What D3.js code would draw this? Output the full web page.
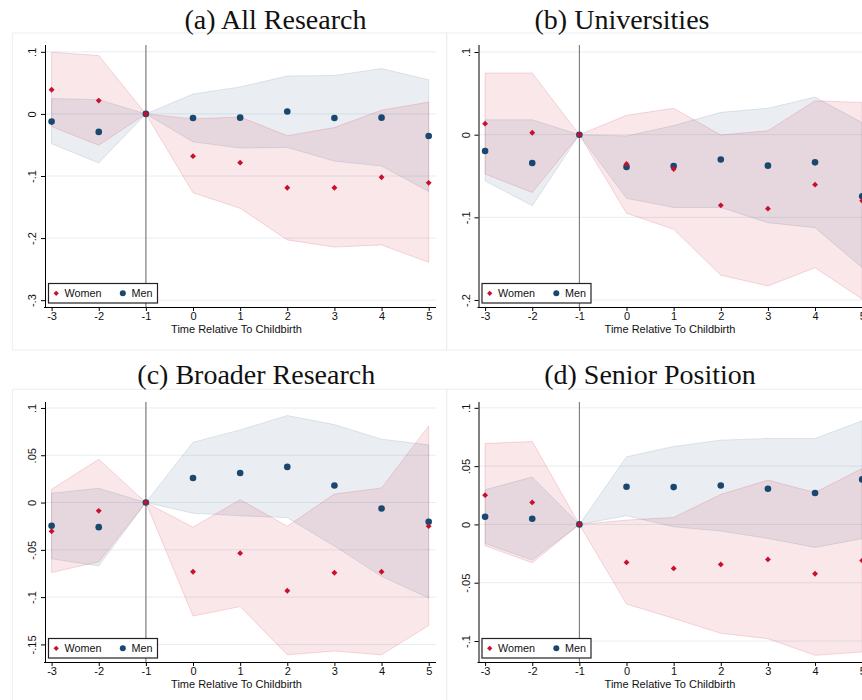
<!DOCTYPE html>
<html>
<head>
<meta charset="utf-8">
<script src="https://cdn.jsdelivr.net/npm/d3@7"></script>
<style>
  body { margin: 0; background: #fff; }
  svg { display: block; }
</style>
</head>
<body>
<div id="chart"></div>
<script>
// x values and labels
const periods = [-3, -2, -1, 0, 1, 2, 3, 4, 5];
const xTickLabels = ["-3", "-2", "-1", "0", "1", "2", "3", "4", "5"];
const seriesNames = ["Women", "Men"];
const panelTitles = ["(a) All Research", "(b) Universities", "(c) Broader Research", "(d) Senior Position"];
const xAxisTitle = "Time Relative To Childbirth";

// (a) All Research
const allWomen   = [0.039, 0.0215, 0, -0.068, -0.0785, -0.119, -0.119, -0.102, -0.111];
const allWomenLo = [-0.0204, -0.0505, 0, -0.127, -0.152, -0.203, -0.2145, -0.211, -0.239];
const allWomenHi = [0.0995, 0.094, 0, -0.008, -0.005, -0.035, -0.022, 0.006, 0.019];
const allMen     = [-0.0124, -0.029, 0, -0.0065, -0.006, 0.0038, -0.0065, -0.006, -0.0355];
const allMenLo   = [-0.048, -0.079, 0, -0.045, -0.055, -0.054, -0.076, -0.084, -0.125];
const allMenHi   = [0.0247, 0.023, 0, 0.032, 0.0435, 0.061, 0.062, 0.073, 0.055];

// (b) Universities
const uniWomen   = [0.0133, 0.0024, 0, -0.0355, -0.0415, -0.0855, -0.0895, -0.0605, -0.080];
const uniWomenLo = [-0.0476, -0.070, 0, -0.095, -0.1145, -0.170, -0.183, -0.161, -0.199];
const uniWomenHi = [0.0746, 0.0746, 0, 0.0234, 0.032, -0.0004, 0.0048, 0.041, 0.039];
const uniMen     = [-0.0198, -0.0343, 0, -0.039, -0.038, -0.030, -0.0375, -0.0335, -0.0746];
const uniMenLo   = [-0.056, -0.086, 0, -0.077, -0.088, -0.088, -0.1065, -0.1125, -0.161];
const uniMenHi   = [0.018, 0.018, 0, -0.0016, 0.011, 0.027, 0.032, 0.0455, 0.0145];

// (c) Broader Research
const broadWomen   = [-0.0303, -0.0088, 0, -0.0732, -0.0535, -0.0933, -0.0743, -0.0732, -0.025];
const broadWomenLo = [-0.074, -0.0627, 0, -0.120, -0.110, -0.161, -0.157, -0.161, -0.130];
const broadWomenHi = [0.014, 0.0458, 0, -0.026, 0.003, -0.025, 0.009, 0.0155, 0.081];
const broadMen     = [-0.0246, -0.026, 0, 0.026, 0.0313, 0.0377, 0.018, -0.0063, -0.0204];
const broadMenLo   = [-0.0595, -0.067, 0, -0.0113, -0.014, -0.016, -0.046, -0.078, -0.101];
const broadMenHi   = [0.0099, 0.015, 0, 0.0637, 0.0768, 0.092, 0.0824, 0.067, 0.061];

// (d) Senior Position
const seniorWomen   = [0.0251, 0.0189, 0, -0.0326, -0.0377, -0.0343, -0.030, -0.0423, -0.0309];
const seniorWomenLo = [-0.0183, -0.0329, 0, -0.0683, -0.0806, -0.0934, -0.098, -0.1123, -0.1094];
const seniorWomenHi = [0.0694, 0.0711, 0, 0.0037, 0.006, 0.0257, 0.038, 0.0274, 0.048];
const seniorMen     = [0.0066, 0.0049, 0, 0.0323, 0.032, 0.0334, 0.0306, 0.0269, 0.0386];
const seniorMenLo   = [-0.0163, -0.0306, 0, 0.0074, -0.002, -0.0057, -0.012, -0.0197, -0.0123];
const seniorMenHi   = [0.0297, 0.0406, 0, 0.058, 0.0669, 0.0723, 0.0737, 0.0737, 0.0889];

// y ticks
const yTicksA = [0.1, 0, -0.1, -0.2, -0.3];
const yLabelsA = [".1", "0", "-.1", "-.2", "-.3"];
const yTicksB = [0.1, 0, -0.1, -0.2];
const yLabelsB = [".1", "0", "-.1", "-.2"];
const yTicksC = [0.1, 0.05, 0, -0.05, -0.1, -0.15];
const yLabelsC = [".1", ".05", "0", "-.05", "-.1", "-.15"];
const yTicksD = [0.1, 0.05, 0, -0.05, -0.1];
const yLabelsD = [".1", ".05", "0", "-.05", "-.1"];

const womenColor = "#c8102e";
const menColor = "#1a476f";

let svg = d3.select("#chart")
    .append("svg")
    .attr("width", 862)
    .attr("height", 700);

// layout for each panel (pixel positions)
let panels = [
    {title: panelTitles[0], tx: 275.5, ty: 28.5, left: 45, right: 436, top: 45, bottom: 307,
     yDomain: [-0.311, 0.111], ticks: yTicksA, labels: yLabelsA, line: "#a3a3a3", lineW: 1.7,
     box: [12.3, 33, 434.4, 317],
     w: allWomen, wLo: allWomenLo, wHi: allWomenHi, m: allMen, mLo: allMenLo, mHi: allMenHi},
    {title: panelTitles[1], tx: 622, ty: 28.5, left: 478.5, right: 869.5, top: 45, bottom: 307,
     yDomain: [-0.2085, 0.1085], ticks: yTicksB, labels: yLabelsB, line: "#6e6e6e", lineW: 1,
     box: [446.7, 33, 434.4, 317],
     w: uniWomen, wLo: uniWomenLo, wHi: uniWomenHi, m: uniMen, mLo: uniMenLo, mHi: uniMenHi},
    {title: panelTitles[2], tx: 256.3, ty: 383.5, left: 45, right: 436, top: 402, bottom: 662,
     yDomain: [-0.1686, 0.1063], ticks: yTicksC, labels: yLabelsC, line: "#a3a3a3", lineW: 1.7,
     box: [12.3, 389.3, 434.4, 320],
     w: broadWomen, wLo: broadWomenLo, wHi: broadWomenHi, m: broadMen, mLo: broadMenLo, mHi: broadMenHi},
    {title: panelTitles[3], tx: 650, ty: 383.5, left: 478.5, right: 869.5, top: 402, bottom: 662,
     yDomain: [-0.118, 0.105], ticks: yTicksD, labels: yLabelsD, line: "#6e6e6e", lineW: 1,
     box: [446.7, 389.3, 434.4, 320],
     w: seniorWomen, wLo: seniorWomenLo, wHi: seniorWomenHi, m: seniorMen, mLo: seniorMenLo, mHi: seniorMenHi}
];

panels.forEach(function(p) {
    let g = svg.append("g");

    // faint graph region box
    g.append("rect")
        .attr("x", p.box[0]).attr("y", p.box[1])
        .attr("width", p.box[2]).attr("height", p.box[3])
        .attr("fill", "none")
        .attr("stroke", "#eaeff2")
        .attr("stroke-width", 1);

    g.append("text")
        .attr("x", p.tx).attr("y", p.ty)
        .attr("text-anchor", "middle")
        .attr("font-family", "Liberation Serif, Times New Roman, serif")
        .attr("font-size", "28px")
        .attr("fill", "#111")
        .text(p.title);

    let x = d3.scaleLinear().domain([-3.14, 5.155]).range([p.left, p.right]);
    let y = d3.scaleLinear().domain(p.yDomain).range([p.bottom, p.top]);

    // gridlines
    g.selectAll(".grid")
        .data(p.ticks)
        .enter()
        .append("line")
        .attr("x1", p.left).attr("x2", p.right)
        .attr("y1", d => y(d)).attr("y2", d => y(d))
        .attr("stroke", "#e6eef2")
        .attr("stroke-width", 1);

    let rows = periods.map((t, i) => ({t: t, w: p.w[i], wLo: p.wLo[i], wHi: p.wHi[i],
                                       m: p.m[i], mLo: p.mLo[i], mHi: p.mHi[i]}));

    // confidence bands
    let menArea = d3.area().x(d => x(d.t)).y0(d => y(d.mLo)).y1(d => y(d.mHi));
    let womenArea = d3.area().x(d => x(d.t)).y0(d => y(d.wLo)).y1(d => y(d.wHi));

    g.append("path")
        .datum(rows)
        .attr("d", menArea)
        .attr("fill", menColor).attr("fill-opacity", 0.09)
        .attr("stroke", menColor).attr("stroke-opacity", 0.12);

    g.append("path")
        .datum(rows)
        .attr("d", womenArea)
        .attr("fill", womenColor).attr("fill-opacity", 0.1)
        .attr("stroke", womenColor).attr("stroke-opacity", 0.15);

    // reference line at -1
    g.append("line")
        .attr("x1", x(-1)).attr("x2", x(-1))
        .attr("y1", p.top).attr("y2", p.bottom)
        .attr("stroke", p.line)
        .attr("stroke-width", p.lineW);

    // axes
    let xAxis = d3.axisBottom(x).tickValues(periods)
        .tickFormat((d, i) => xTickLabels[i]).tickSize(4).tickSizeOuter(0);
    let yAxis = d3.axisLeft(y).tickValues(p.ticks)
        .tickFormat((d, i) => p.labels[i]).tickSize(4).tickSizeOuter(0);

    let xg = g.append("g")
        .attr("transform", `translate(0, ${p.bottom})`)
        .call(xAxis);
    xg.select(".domain").attr("d", `M${p.left - 1},0.5H${p.right}`);
    xg.selectAll("text")
        .attr("font-family", "Liberation Sans, Arial, sans-serif")
        .attr("font-size", "11px")
        .attr("fill", "#111")
        .attr("dy", "0.7em")
        .attr("y", 5);

    let yg = g.append("g")
        .attr("transform", `translate(${p.left}, 0)`)
        .call(yAxis);
    yg.select(".domain").attr("d", `M0.5,${p.top}V${p.bottom + 1}`);
    yg.selectAll(".tick text")
        .attr("font-family", "Liberation Sans, Arial, sans-serif")
        .attr("font-size", "11px")
        .attr("fill", "#111")
        .attr("x", null).attr("dy", null)
        .attr("text-anchor", "middle")
        .attr("transform", "translate(-9,0) rotate(-90)");

    g.append("text")
        .attr("x", (p.left + p.right) / 2 - 4)
        .attr("y", p.bottom + 26)
        .attr("text-anchor", "middle")
        .attr("font-family", "Liberation Sans, Arial, sans-serif")
        .attr("font-size", "11px")
        .attr("fill", "#111")
        .text(xAxisTitle);

    // markers
    g.selectAll(".man")
        .data(rows)
        .enter()
        .append("circle")
        .attr("cx", d => x(d.t))
        .attr("cy", d => y(d.m))
        .attr("r", 3.3)
        .attr("fill", menColor);

    g.selectAll(".woman")
        .data(rows)
        .enter()
        .append("path")
        .attr("d", d3.symbol(d3.symbolDiamond2, 22))
        .attr("transform", d => `translate(${x(d.t)}, ${y(d.w)})`)
        .attr("fill", womenColor);

    // legend
    let lx = p.left + 3.5;
    let ly = p.bottom - 23.5;
    let lg = g.append("g").attr("transform", `translate(${lx}, ${ly})`);
    lg.append("rect")
        .attr("x", 0).attr("y", 0)
        .attr("width", 109).attr("height", 19.5)
        .attr("fill", "#fff")
        .attr("stroke", "#222")
        .attr("stroke-width", 1.2);
    lg.append("path")
        .attr("d", d3.symbol(d3.symbolDiamond2, 18))
        .attr("transform", "translate(7.7, 9.8)")
        .attr("fill", womenColor);
    lg.append("circle")
        .attr("cx", 74.3).attr("cy", 9.8).attr("r", 3)
        .attr("fill", menColor);
    lg.selectAll(".lbl")
        .data(seriesNames)
        .enter()
        .append("text")
        .attr("x", (d, i) => i === 0 ? 16 : 83)
        .attr("y", 13.6)
        .attr("font-family", "Liberation Sans, Arial, sans-serif")
        .attr("font-size", "10.8px")
        .attr("fill", "#111")
        .text(d => d);
});
</script>
</body>
</html>
